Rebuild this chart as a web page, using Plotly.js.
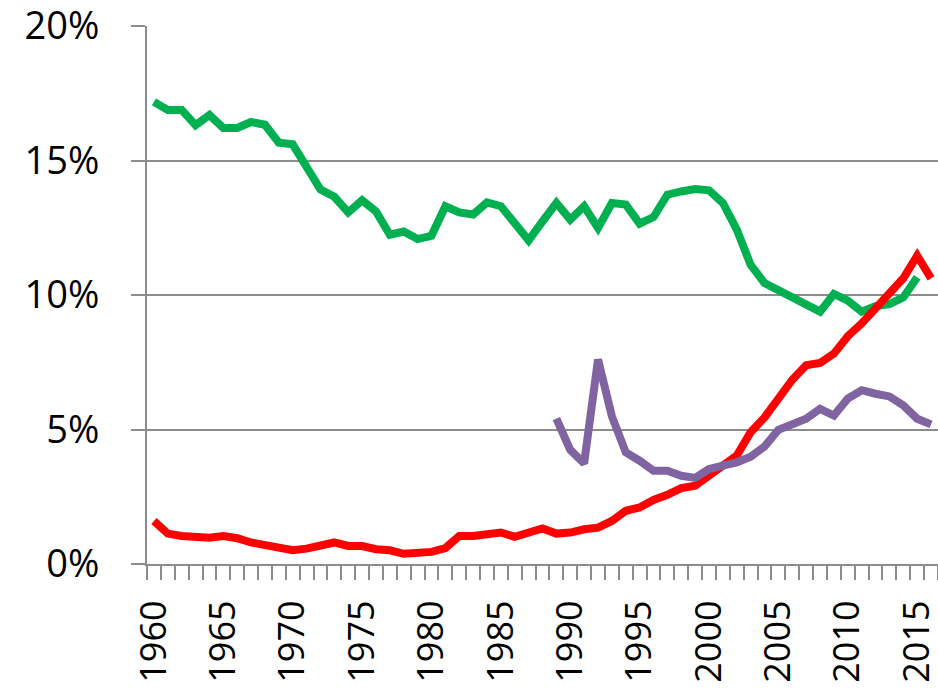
<!DOCTYPE html>
<html>
<head>
<meta charset="utf-8">
<script src="https://cdn.plot.ly/plotly-3.0.1.min.js"></script>
<style>html,body{margin:0;padding:0;background:#fff;}</style>
</head>
<body>
<div id="chart" style="width:938px;height:692px;"></div>
<script>
const yearsAll = [1960,1961,1962,1963,1964,1965,1966,1967,1968,1969,1970,1971,1972,1973,1974,1975,1976,1977,1978,1979,1980,1981,1982,1983,1984,1985,1986,1987,1988,1989,1990,1991,1992,1993,1994,1995,1996,1997,1998,1999,2000,2001,2002,2003,2004,2005,2006,2007,2008,2009,2010,2011,2012,2013,2014,2015,2016];

const greenYears = yearsAll.slice(0, 56); // 1960-2015
const greenValues = [17.18,16.88,16.88,16.31,16.69,16.21,16.21,16.43,16.33,15.66,15.60,14.76,13.92,13.65,13.07,13.52,13.11,12.24,12.36,12.08,12.20,13.30,13.07,12.99,13.44,13.30,12.68,12.03,12.74,13.42,12.80,13.30,12.49,13.42,13.36,12.65,12.90,13.73,13.85,13.94,13.89,13.42,12.43,11.12,10.44,10.19,9.94,9.66,9.38,10.04,9.79,9.38,9.59,9.66,9.91,10.66];

const redYears = yearsAll; // 1960-2016
const redValues = [1.60,1.13,1.04,0.98,0.98,1.04,0.96,0.80,0.70,0.61,0.51,0.57,0.66,0.80,0.67,0.67,0.55,0.51,0.38,0.42,0.45,0.59,1.04,1.04,1.11,1.17,1.01,1.17,1.32,1.13,1.17,1.29,1.35,1.60,1.98,2.10,2.38,2.57,2.82,2.91,3.28,3.59,4.03,4.90,5.45,6.15,6.85,7.39,7.47,7.82,8.47,8.94,9.50,10.06,10.62,11.46,10.62];

const purpleYears = yearsAll.slice(29); // 1989-2016
const purpleValues = [5.40,4.24,3.74,7.60,5.49,4.15,3.84,3.47,3.47,3.28,3.20,3.53,3.66,3.78,3.99,4.37,4.99,5.23,5.40,5.77,5.52,6.15,6.46,6.33,6.23,5.90,5.40,5.19];

const xTickVals = [1960,1965,1970,1975,1980,1985,1990,1995,2000,2005,2010,2015];
const xTickText = xTickVals.map(String);
const yTickVals = [0,5,10,15,20];
const yTickText = ['0%','5%','10%','15%','20%'];

const traces = [
  {x: greenYears, y: greenValues, type: 'scatter', mode: 'lines', line: {color: '#00B050', width: 8}, hoverinfo: 'skip'},
  {x: redYears, y: redValues, type: 'scatter', mode: 'lines', line: {color: '#FF0000', width: 8}, hoverinfo: 'skip'},
  {x: purpleYears, y: purpleValues, type: 'scatter', mode: 'lines', line: {color: '#8064A2', width: 8}, hoverinfo: 'skip'}
];

const layout = {
  width: 938, height: 692,
  margin: {l: 147, r: 0, t: 26, b: 128, pad: 0},
  paper_bgcolor: '#fff', plot_bgcolor: '#fff',
  showlegend: false,
  font: {family: 'Open Sans, sans-serif', size: 36, color: '#000'},
  xaxis: {
    range: [1959.5, 2016.5],
    tickmode: 'array', tickvals: xTickVals, ticktext: xTickText,
    tickangle: -90,
    ticks: '', showgrid: false, zeroline: false,
    showline: true, linecolor: '#8c8c8c', linewidth: 2,
    ticklabelstandoff: 20,
    ticklabeloverflow: 'allow',
    tickfont: {family: 'Open Sans, sans-serif', size: 36, color: '#000'},
    minor: {tick0: 1959.5, dtick: 1, ticks: 'outside', ticklen: 14, tickcolor: '#8c8c8c', tickwidth: 2, showgrid: false}
  },
  yaxis: {
    range: [0, 20],
    tickmode: 'array', tickvals: yTickVals, ticktext: yTickText,
    ticks: 'outside', ticklen: 14, tickcolor: '#8c8c8c', tickwidth: 2,
    showgrid: true, gridcolor: '#8c8c8c', gridwidth: 2,
    zeroline: false,
    showline: true, linecolor: '#8c8c8c', linewidth: 2,
    ticklabelstandoff: 24,
    ticklabeloverflow: 'allow',
    tickfont: {family: 'Open Sans, sans-serif', size: 38, color: '#000'}
  }
};

Plotly.newPlot('chart', traces, layout, {staticPlot: true, displayModeBar: false});
</script>
</body>
</html>
